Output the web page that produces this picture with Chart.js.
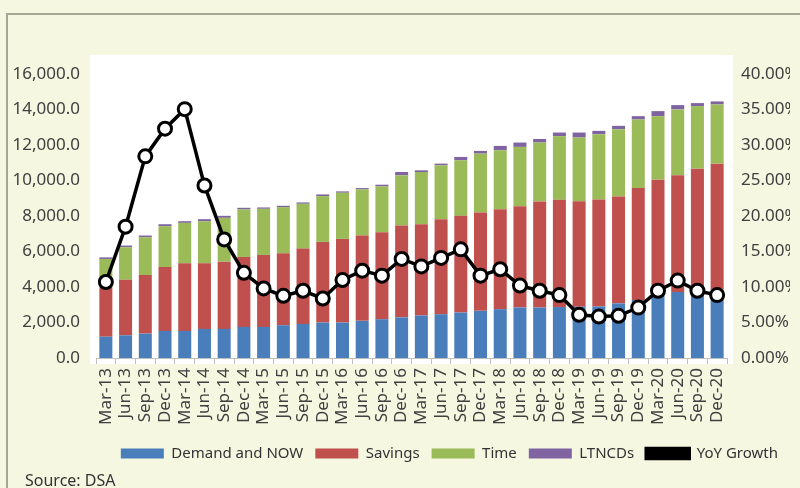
<!DOCTYPE html>
<html>
<head>
<meta charset="utf-8">
<title>Deposits</title>
<script src="https://cdn.jsdelivr.net/npm/chart.js@4.4.1/dist/chart.umd.min.js"></script>
<style>
    html, body { margin: 0; padding: 0; background: #f5f7e1; }
    #wrap { position: relative; width: 800px; height: 488px; overflow: hidden; }
    #frame { position: absolute; left: 6px; top: 13px; right: -4px; bottom: -4px; border-top: 2px solid #a6a897; border-left: 2px solid #a6a897; }
    #chart { position: absolute; left: 0; top: 0; }
    #source { position: absolute; left: 25px; top: 469px; font: 16px 'Noto Sans', sans-serif; color: #333; }
</style>
</head>
<body>
<div id="wrap">
    <div id="frame"></div>
    <canvas id="chart" width="800" height="488"></canvas>
    <div id="source">Source: DSA</div>
</div>
<script>
const quarters = ['Mar-13', 'Jun-13', 'Sep-13', 'Dec-13', 'Mar-14', 'Jun-14', 'Sep-14', 'Dec-14',
    'Mar-15', 'Jun-15', 'Sep-15', 'Dec-15', 'Mar-16', 'Jun-16', 'Sep-16', 'Dec-16',
    'Mar-17', 'Jun-17', 'Sep-17', 'Dec-17', 'Mar-18', 'Jun-18', 'Sep-18', 'Dec-18',
    'Mar-19', 'Jun-19', 'Sep-19', 'Dec-19', 'Mar-20', 'Jun-20', 'Sep-20', 'Dec-20'];

const demandNow = [1200, 1280, 1375, 1527, 1527, 1640, 1640, 1753, 1753, 1847, 1922, 1998, 1998, 2092, 2186, 2290,
    2393, 2468, 2563, 2657, 2751, 2845, 2845, 2870, 2890, 2902, 3080, 3270, 3580, 3720, 3600, 3850];
const savings = [2775, 3130, 3300, 3600, 3806, 3693, 3788, 3939, 4052, 4052, 4241, 4542, 4712, 4806, 4900, 5173,
    5145, 5353, 5447, 5541, 5636, 5711, 5976, 6045, 5940, 6031, 6023, 6304, 6467, 6570, 7067, 7100];
const time = [1605, 1830, 2130, 2300, 2281, 2375, 2469, 2676, 2600, 2601, 2525, 2582, 2600, 2601, 2582, 2827,
    2940, 3034, 3128, 3317, 3317, 3337, 3319, 3585, 3590, 3675, 3788, 3863, 3579, 3714, 3524, 3335];
const ltncds = [90, 95, 95, 110, 94, 113, 113, 94, 76, 75, 76, 94, 76, 75, 95, 188,
    95, 95, 189, 151, 245, 245, 200, 202, 282, 189, 188, 189, 283, 244, 170, 170];
const yoyGrowth = [10.7, 18.5, 28.4, 32.3, 35.05, 24.3, 16.7, 12.0, 9.8, 8.76, 9.47, 8.38, 10.98, 12.3, 11.6, 13.95,
    12.9, 14.1, 15.3, 11.6, 12.5, 10.2, 9.47, 8.86, 6.08, 5.84, 5.94, 7.1, 9.47, 10.9, 9.47, 8.86];

const textColor = '#404040';
const axisFont = { family: "'Noto Sans', sans-serif", size: 17 };

// white plot panel behind the bars, a bit larger than the axis box
const plotBackground = {
    id: 'plotBackground',
    beforeDraw(chart) {
        const { ctx, chartArea } = chart;
        ctx.save();
        ctx.fillStyle = '#ffffff';
        ctx.fillRect(chartArea.left - 6, chartArea.top - 19,
            chartArea.right - chartArea.left + 12, chartArea.bottom - chartArea.top + 25);
        ctx.restore();
    },
};

const barSet = (label, data, color) => ({
    type: 'bar',
    label,
    data,
    backgroundColor: color,
    borderWidth: 0,
    barPercentage: 0.66,
    categoryPercentage: 1,
    stack: 'deposits',
    yAxisID: 'y',
    order: 1,
});

new Chart(document.getElementById('chart').getContext('2d'), {
    data: {
        labels: quarters,
        datasets: [
            barSet('Demand and NOW', demandNow, '#4a7ebb'),
            barSet('Savings', savings, '#c0504d'),
            barSet('Time', time, '#9bbb59'),
            barSet('LTNCDs', ltncds, '#8064a2'),
            {
                type: 'line',
                label: 'YoY Growth',
                data: yoyGrowth,
                borderColor: '#000000',
                backgroundColor: '#000000',
                borderWidth: 3.5,
                tension: 0,
                pointRadius: 6.5,
                pointBorderWidth: 3,
                pointBackgroundColor: '#ffffff',
                pointBorderColor: '#000000',
                yAxisID: 'y1',
                order: 0,
            },
        ],
    },
    options: {
        responsive: false,
        animation: false,
        layout: {
            padding: { top: 74, right: 10, bottom: 17, left: 0 },
        },
        plugins: {
            legend: {
                position: 'bottom',
                align: 'end',
                labels: {
                    boxWidth: 43,
                    boxHeight: 10,
                    padding: 12,
                    color: '#333333',
                    font: { family: "'Noto Sans', sans-serif", size: 15 },
                    sort: (a, b) => a.datasetIndex - b.datasetIndex,
                },
            },
            tooltip: { enabled: false },
        },
        scales: {
            x: {
                stacked: true,
                offset: true,
                grid: {
                    display: true,
                    drawOnChartArea: false,
                    drawTicks: true,
                    tickLength: 6,
                    color: '#bfbfbf',
                    offset: true,
                },
                border: { color: '#bfbfbf' },
                ticks: {
                    autoSkip: false,
                    minRotation: 90,
                    maxRotation: 90,
                    padding: 4,
                    color: textColor,
                    font: { family: "'Noto Sans', sans-serif", size: 17 },
                },
                afterFit: (scale) => { scale.height = 76; },
            },
            y: {
                stacked: true,
                position: 'left',
                min: 0,
                max: 16000,
                grid: { display: false },
                border: { display: false },
                ticks: {
                    stepSize: 2000,
                    padding: 8,
                    color: textColor,
                    font: axisFont,
                    callback: (v) => v.toLocaleString('en-US', { minimumFractionDigits: 1, maximumFractionDigits: 1 }),
                },
                afterFit: (scale) => { scale.width = 96; },
            },
            y1: {
                position: 'right',
                min: 0,
                max: 40,
                grid: { display: false },
                border: { display: false },
                ticks: {
                    stepSize: 5,
                    padding: 6,
                    color: textColor,
                    font: axisFont,
                    callback: (v) => `${v.toFixed(2)}%`,
                },
                afterFit: (scale) => { scale.width = 63; },
            },
        },
    },
    plugins: [plotBackground],
});
</script>
</body>
</html>
